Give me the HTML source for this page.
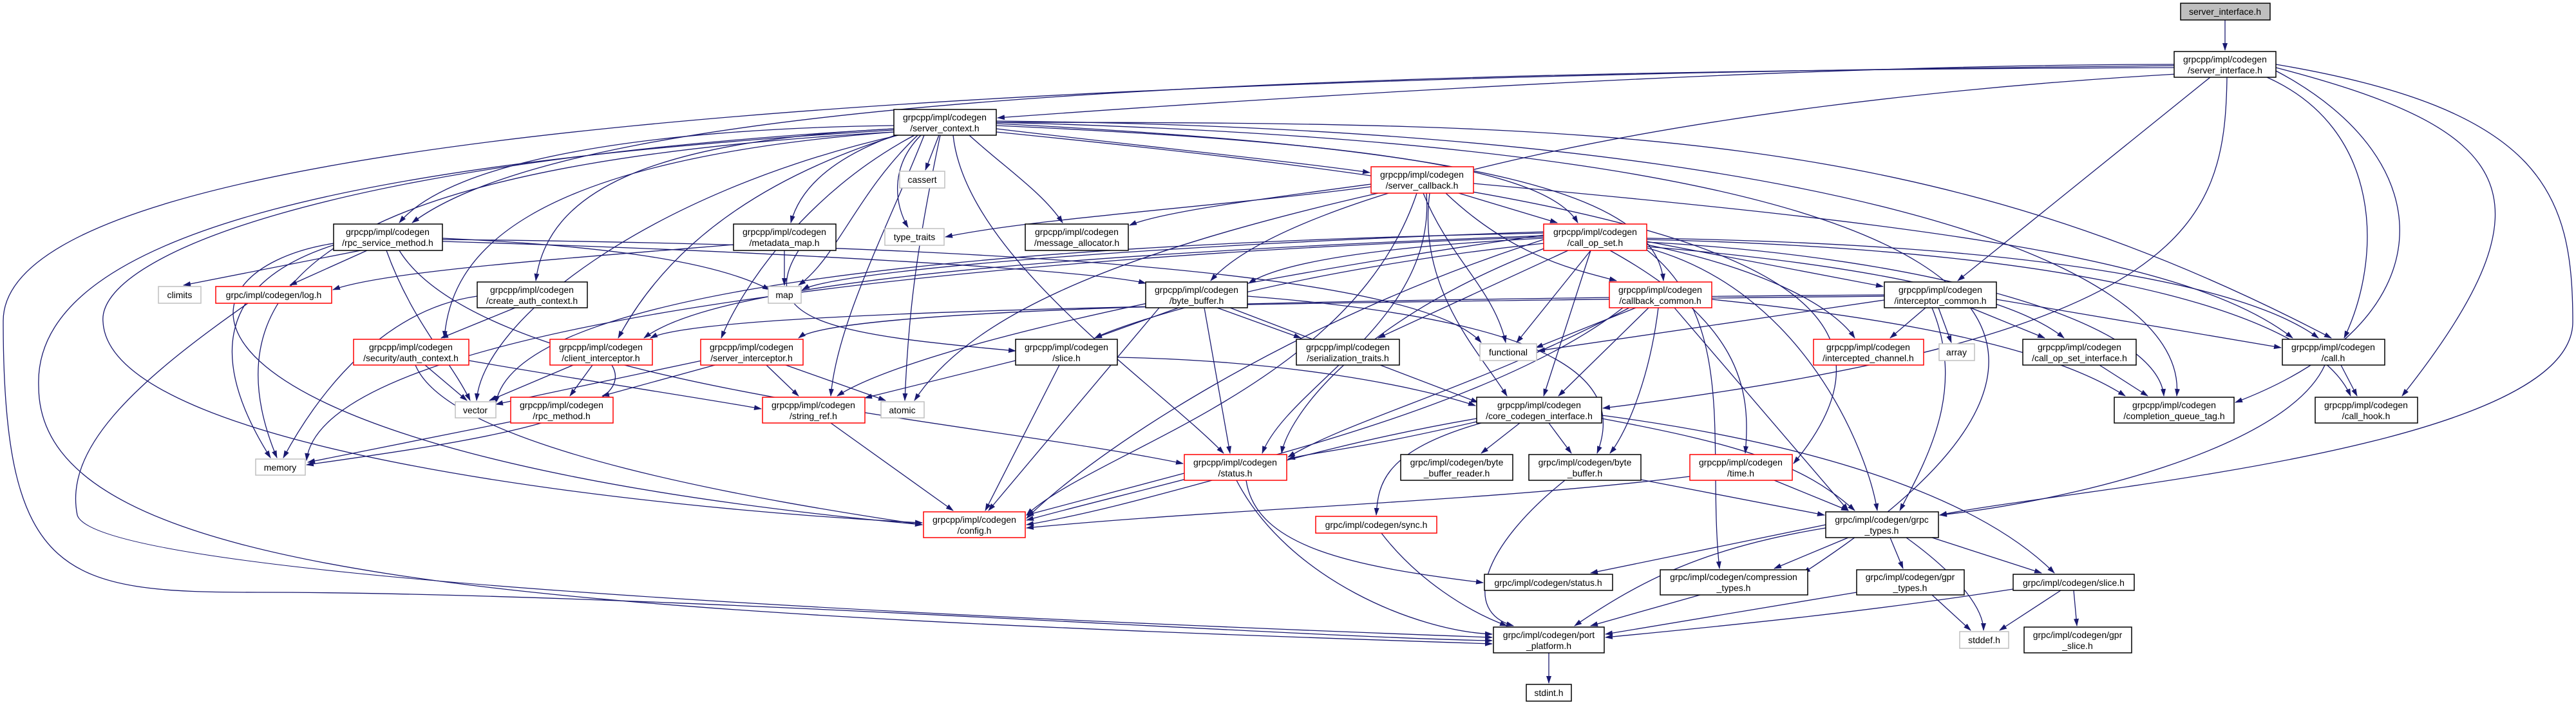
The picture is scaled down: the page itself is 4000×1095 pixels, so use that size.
<!DOCTYPE html>
<html><head><meta charset="utf-8"><style>
html,body{margin:0;padding:0;background:#fff;}
svg{display:block;}
text{font-family:"Liberation Sans",sans-serif;font-size:14px;fill:#000;text-anchor:middle;}
.e{fill:none;stroke:#191970;stroke-width:1.3;}
.b{fill:#fff;stroke:#000;stroke-width:1.5;}
.r{fill:#fff;stroke:#ff0000;stroke-width:1.5;}
.g{fill:#fff;stroke:#bfbfbf;stroke-width:1.5;}
</style></head><body>
<svg width="4000" height="1095" viewBox="0 0 4000 1095" xmlns="http://www.w3.org/2000/svg">
<defs><marker id="a" markerUnits="userSpaceOnUse" markerWidth="12" markerHeight="10" refX="11" refY="4" orient="auto"><path d="M0,0 L12,4 L0,8 z" fill="#191970"/></marker></defs>
<g class="e" marker-end="url(#a)">
<path d="M3455 31 L3455 78"/>
<path d="M3376 100 C2800 100,2000 150,1549 183"/>
<path d="M3376 105 C2000 110,900 150,640 346"/>
<path d="M3380 115 C2600 160,2000 300,1880 436"/>
<path d="M3432 120 L3040 436"/>
<path d="M3458 120 C3455 350,3400 520,2489 634"/>
<path d="M3520 120 C3700 200,3700 400,3640 525"/>
<path d="M3534 110 C3800 250,3800 500,3471 625"/>
<path d="M3534 105 C3900 200,3980 300,3730 615"/>
<path d="M3534 100 C3950 170,3995 300,3995 500 C3995 700,3200 760,3012 800"/>
<path d="M3376 102 C1500 120,0 200,5 500 C5 900,100 920,400 920 C1000 920,2000 990,2317 995"/>
<path d="M1458 210 L1437 264"/>
<path d="M1430 210 C1380 260,1390 320,1410 353"/>
<path d="M1390 210 C1280 250,1240 300,1228 346"/>
<path d="M1505 210 C1560 260,1620 300,1650 346"/>
<path d="M1425 210 C1330 300,1300 400,1240 443"/>
<path d="M1388 195 C1000 200,700 250,620 346"/>
<path d="M1388 200 C1000 220,850 300,832 436"/>
<path d="M1388 205 C800 250,700 400,690 525"/>
<path d="M1420 210 C1250 300,1150 450,1120 525"/>
<path d="M1400 208 C1100 300,1000 450,960 525"/>
<path d="M1435 210 C1380 350,1300 500,1290 615"/>
<path d="M1480 210 C1500 400,1800 600,1900 704"/>
<path d="M1388 200 C500 250,150 400,160 500 C170 700,1000 790,1432 812"/>
<path d="M1547 200 C1800 230,2000 250,2127 268"/>
<path d="M1547 195 C2100 220,2400 260,2450 346"/>
<path d="M1547 192 C2300 230,2570 300,2583 436"/>
<path d="M1547 190 C2500 190,3000 200,3620 525"/>
<path d="M1547 188 C2800 200,3400 400,3380 615"/>
<path d="M1547 205 C2500 300,3050 400,2785 720"/>
<path d="M1388 205 C600 250,300 400,430 711"/>
<path d="M1395 210 C1000 300,750 500,740 622"/>
<path d="M1388 202 C600 250,50 350,60 600 C60 900,800 950,2317 1000"/>
<path d="M1547 190 C3100 230,3400 500,2800 890"/>
<path d="M1460 210 C1420 400,1410 500,1405 622"/>
<path d="M560 389 L285 443"/>
<path d="M570 389 L450 443"/>
<path d="M600 389 C640 500,700 560,730 622"/>
<path d="M520 380 C300 450,350 600,420 711"/>
<path d="M687 370 C900 380,1100 400,1195 450"/>
<path d="M687 375 C1200 390,1700 420,1779 440"/>
<path d="M620 389 C750 600,1500 650,1837 720"/>
<path d="M518 378 C250 420,200 700,1432 815"/>
<path d="M687 372 C1500 380,2200 420,2300 532"/>
<path d="M1218 389 L1218 443"/>
<path d="M1240 389 C1170 500,1300 520,1577 545"/>
<path d="M1139 380 C900 400,600 420,517 450"/>
<path d="M800 478 L685 525"/>
<path d="M741 460 C600 480,500 600,440 711"/>
<path d="M660 567 L725 622"/>
<path d="M728 560 C900 590,1100 620,1182 635"/>
<path d="M645 567 C700 700,1200 780,1432 815"/>
<path d="M890 567 L760 622"/>
<path d="M920 567 L885 615"/>
<path d="M950 567 C1000 650,700 690,476 722"/>
<path d="M1090 560 L770 628"/>
<path d="M1110 567 L935 615"/>
<path d="M1190 567 L1240 615"/>
<path d="M1220 567 L1375 622"/>
<path d="M793 655 L478 718"/>
<path d="M1290 657 L1480 793"/>
<path d="M1577 560 L1343 618"/>
<path d="M1645 567 L1530 793"/>
<path d="M1735 555 C2000 560,2200 600,2291 630"/>
<path d="M1830 478 L1700 525"/>
<path d="M1890 478 L2020 525"/>
<path d="M1870 478 L1910 704"/>
<path d="M1800 478 L1535 793"/>
<path d="M1910 478 L2295 625"/>
<path d="M1937 460 C2450 500,2520 600,2480 704"/>
<path d="M1839 735 L1594 800"/>
<path d="M1935 746 C1950 850,2100 880,2303 905"/>
<path d="M1920 746 C2000 900,2200 980,2317 985"/>
<path d="M2210 300 C2250 400,2320 450,2338 532"/>
<path d="M2129 290 C1900 320,1600 340,1468 368"/>
<path d="M2129 286 C1950 310,1800 330,1754 350"/>
<path d="M2265 300 L2418 346"/>
<path d="M2245 300 C2350 400,2450 420,2510 436"/>
<path d="M2215 300 C2230 500,2000 600,1960 704"/>
<path d="M2200 300 C2100 600,1700 700,1594 800"/>
<path d="M2288 285 C3000 350,3400 400,3560 525"/>
<path d="M2220 300 C2200 450,2300 550,2340 615"/>
<path d="M2140 300 C1700 400,1500 500,1420 622"/>
<path d="M2397 370 C2200 380,2000 400,1939 440"/>
<path d="M2435 389 L2140 525"/>
<path d="M2470 389 L2355 532"/>
<path d="M2470 389 L2397 615"/>
<path d="M2557 375 L2924 445"/>
<path d="M2557 380 C2750 420,2850 480,2880 525"/>
<path d="M2557 383 C3000 420,3150 480,3205 525"/>
<path d="M2557 370 C3200 380,3500 450,3600 525"/>
<path d="M2557 376 C3000 400,3350 500,3360 615"/>
<path d="M2557 372 C3300 390,3600 500,3650 615"/>
<path d="M2557 385 C2800 450,2900 700,2915 793"/>
<path d="M2557 388 C2700 500,2650 700,2670 883"/>
<path d="M2397 372 C2000 500,1700 700,1594 805"/>
<path d="M2400 385 C2100 500,2000 650,1990 704"/>
<path d="M2397 365 C1800 450,1400 550,1300 615"/>
<path d="M2397 378 C2000 420,1750 500,1700 525"/>
<path d="M2397 360 C1800 380,1300 420,1246 450"/>
<path d="M2397 368 C1500 400,500 500,476 715"/>
<path d="M2397 362 C1500 380,800 450,770 626"/>
<path d="M2500 389 C2700 500,2720 600,2710 704"/>
<path d="M2397 366 C1500 400,1100 450,1000 525"/>
<path d="M2540 478 L2385 540"/>
<path d="M2560 478 L2420 615"/>
<path d="M2520 478 C2300 650,1800 750,1594 808"/>
<path d="M2530 478 C2300 600,2100 650,2000 710"/>
<path d="M2600 478 L2870 793"/>
<path d="M2658 465 C3000 500,3200 550,3300 615"/>
<path d="M2575 478 C2560 600,2520 680,2500 704"/>
<path d="M3010 478 L3030 532"/>
<path d="M2926 466 L2388 545"/>
<path d="M3060 478 L3175 525"/>
<path d="M3100 465 L3542 540"/>
<path d="M2990 478 L2935 525"/>
<path d="M2926 460 C2000 470,1100 480,1010 525"/>
<path d="M3000 478 C3050 600,3000 700,2950 793"/>
<path d="M2926 458 C2000 465,1300 480,1240 525"/>
<path d="M3260 567 L3335 615"/>
<path d="M3635 567 L3660 615"/>
<path d="M3610 567 C3550 700,3200 780,3012 800"/>
<path d="M2360 657 L2300 704"/>
<path d="M2405 657 L2440 704"/>
<path d="M2300 657 C2150 700,2140 750,2137 800"/>
<path d="M2487 650 C2700 690,2800 720,2880 793"/>
<path d="M2293 655 C2100 700,2050 700,2000 713"/>
<path d="M2293 650 C2000 700,1800 780,1594 815"/>
<path d="M2487 645 C2900 700,3100 800,3190 890"/>
<path d="M2548 745 L2833 800"/>
<path d="M2430 746 C2300 850,2270 950,2350 972"/>
<path d="M2755 746 L2870 793"/>
<path d="M2624 740 C2300 780,1900 790,1594 820"/>
<path d="M2145 828 C2200 900,2280 950,2340 972"/>
<path d="M2835 815 L2470 890"/>
<path d="M2870 835 L2755 883"/>
<path d="M2935 835 L2955 883"/>
<path d="M2835 820 C2650 850,2550 900,2445 972"/>
<path d="M2960 835 C3050 900,3080 950,3080 979"/>
<path d="M3000 835 L3170 890"/>
<path d="M2640 924 L2470 972"/>
<path d="M2883 920 L2493 985"/>
<path d="M3000 924 L3060 979"/>
<path d="M3126 915 C2900 950,2700 970,2493 990"/>
<path d="M3200 917 L3105 979"/>
<path d="M3220 917 L3225 972"/>
<path d="M2405 1014 L2405 1061"/>
<path d="M385 471 C200 600,100 700,120 800 C150 900,1500 960,2317 990"/>
</g>
<!-- nodes -->
<rect x="3386" y="5" width="139" height="26" fill="#bfbfbf" stroke="#000" stroke-width="1.5"/><text x="3455" y="23">server_interface.h</text>
<rect class="b" x="3376" y="80" width="158" height="40"/><text x="3455" y="97">grpcpp/impl/codegen</text><text x="3455" y="114">/server_interface.h</text>
<rect class="b" x="1388" y="170" width="159" height="40"/><text x="1467" y="187">grpcpp/impl/codegen</text><text x="1467" y="204">/server_context.h</text>
<rect class="b" x="518" y="348" width="169" height="41"/><text x="602" y="365">grpcpp/impl/codegen</text><text x="602" y="382">/rpc_service_method.h</text>
<rect class="b" x="1139" y="348" width="159" height="41"/><text x="1218" y="365">grpcpp/impl/codegen</text><text x="1218" y="382">/metadata_map.h</text>
<rect class="g" x="1374" y="355" width="92" height="26"/><text x="1420" y="373">type_traits</text>
<rect class="b" x="1592" y="348" width="160" height="41"/><text x="1672" y="365">grpcpp/impl/codegen</text><text x="1672" y="382">/message_allocator.h</text>
<rect class="g" x="1397" y="266" width="70" height="26"/><text x="1432" y="284">cassert</text>
<rect class="r" x="2129" y="259" width="159" height="41"/><text x="2208" y="276">grpcpp/impl/codegen</text><text x="2208" y="293">/server_callback.h</text>
<rect class="r" x="2397" y="348" width="160" height="41"/><text x="2477" y="365">grpcpp/impl/codegen</text><text x="2477" y="382">/call_op_set.h</text>
<rect class="g" x="246" y="445" width="66" height="26"/><text x="279" y="463">climits</text>
<rect class="r" x="335" y="445" width="180" height="26"/><text x="425" y="463">grpc/impl/codegen/log.h</text>
<rect class="b" x="741" y="438" width="171" height="40"/><text x="826" y="455">grpcpp/impl/codegen</text><text x="826" y="472">/create_auth_context.h</text>
<rect class="g" x="1193" y="445" width="51" height="26"/><text x="1218" y="463">map</text>
<rect class="b" x="1779" y="438" width="158" height="40"/><text x="1858" y="455">grpcpp/impl/codegen</text><text x="1858" y="472">/byte_buffer.h</text>
<rect class="r" x="2499" y="438" width="159" height="40"/><text x="2578" y="455">grpcpp/impl/codegen</text><text x="2578" y="472">/callback_common.h</text>
<rect class="b" x="2926" y="438" width="174" height="40"/><text x="3013" y="455">grpcpp/impl/codegen</text><text x="3013" y="472">/interceptor_common.h</text>
<rect class="g" x="2298" y="534" width="88" height="26"/><text x="2342" y="552">functional</text>
<rect class="g" x="3011" y="534" width="55" height="26"/><text x="3038" y="552">array</text>
<rect class="r" x="549" y="527" width="179" height="40"/><text x="638" y="544">grpcpp/impl/codegen</text><text x="638" y="561">/security/auth_context.h</text>
<rect class="r" x="854" y="527" width="159" height="40"/><text x="933" y="544">grpcpp/impl/codegen</text><text x="933" y="561">/client_interceptor.h</text>
<rect class="r" x="1088" y="527" width="159" height="40"/><text x="1167" y="544">grpcpp/impl/codegen</text><text x="1167" y="561">/server_interceptor.h</text>
<rect class="b" x="1577" y="527" width="158" height="40"/><text x="1656" y="544">grpcpp/impl/codegen</text><text x="1656" y="561">/slice.h</text>
<rect class="b" x="2013" y="527" width="160" height="40"/><text x="2093" y="544">grpcpp/impl/codegen</text><text x="2093" y="561">/serialization_traits.h</text>
<rect class="r" x="2816" y="527" width="171" height="40"/><text x="2901" y="544">grpcpp/impl/codegen</text><text x="2901" y="561">/intercepted_channel.h</text>
<rect class="b" x="3141" y="527" width="176" height="40"/><text x="3229" y="544">grpcpp/impl/codegen</text><text x="3229" y="561">/call_op_set_interface.h</text>
<rect class="b" x="3544" y="527" width="159" height="40"/><text x="3623" y="544">grpcpp/impl/codegen</text><text x="3623" y="561">/call.h</text>
<rect class="g" x="707" y="624" width="63" height="25"/><text x="738" y="642">vector</text>
<rect class="r" x="793" y="617" width="159" height="40"/><text x="872" y="634">grpcpp/impl/codegen</text><text x="872" y="651">/rpc_method.h</text>
<rect class="r" x="1184" y="617" width="159" height="40"/><text x="1263" y="634">grpcpp/impl/codegen</text><text x="1263" y="651">/string_ref.h</text>
<rect class="g" x="1368" y="624" width="67" height="25"/><text x="1401" y="642">atomic</text>
<rect class="b" x="2293" y="617" width="194" height="40"/><text x="2390" y="634">grpcpp/impl/codegen</text><text x="2390" y="651">/core_codegen_interface.h</text>
<rect class="b" x="3283" y="617" width="186" height="40"/><text x="3376" y="634">grpcpp/impl/codegen</text><text x="3376" y="651">/completion_queue_tag.h</text>
<rect class="b" x="3595" y="617" width="159" height="40"/><text x="3674" y="634">grpcpp/impl/codegen</text><text x="3674" y="651">/call_hook.h</text>
<rect class="g" x="397" y="713" width="77" height="25"/><text x="435" y="731">memory</text>
<rect class="r" x="1839" y="706" width="159" height="40"/><text x="1918" y="723">grpcpp/impl/codegen</text><text x="1918" y="740">/status.h</text>
<rect class="b" x="2175" y="706" width="174" height="40"/><text x="2262" y="723">grpc/impl/codegen/byte</text><text x="2262" y="740">_buffer_reader.h</text>
<rect class="b" x="2374" y="706" width="174" height="40"/><text x="2461" y="723">grpc/impl/codegen/byte</text><text x="2461" y="740">_buffer.h</text>
<rect class="r" x="2624" y="706" width="159" height="40"/><text x="2703" y="723">grpcpp/impl/codegen</text><text x="2703" y="740">/time.h</text>
<rect class="r" x="1434" y="795" width="158" height="40"/><text x="1513" y="812">grpcpp/impl/codegen</text><text x="1513" y="829">/config.h</text>
<rect class="r" x="2043" y="802" width="188" height="26"/><text x="2137" y="820">grpc/impl/codegen/sync.h</text>
<rect class="b" x="2835" y="795" width="175" height="40"/><text x="2922" y="812">grpc/impl/codegen/grpc</text><text x="2922" y="829">_types.h</text>
<rect class="b" x="2305" y="892" width="199" height="25"/><text x="2404" y="910">grpc/impl/codegen/status.h</text>
<rect class="b" x="2578" y="885" width="229" height="39"/><text x="2692" y="901">grpc/impl/codegen/compression</text><text x="2692" y="918">_types.h</text>
<rect class="b" x="2883" y="885" width="167" height="39"/><text x="2966" y="901">grpc/impl/codegen/gpr</text><text x="2966" y="918">_types.h</text>
<rect class="b" x="3126" y="892" width="188" height="25"/><text x="3220" y="910">grpc/impl/codegen/slice.h</text>
<rect class="b" x="2319" y="974" width="172" height="40"/><text x="2405" y="991">grpc/impl/codegen/port</text><text x="2405" y="1008">_platform.h</text>
<rect class="g" x="3043" y="981" width="76" height="26"/><text x="3081" y="999">stddef.h</text>
<rect class="b" x="3143" y="974" width="167" height="40"/><text x="3226" y="991">grpc/impl/codegen/gpr</text><text x="3226" y="1008">_slice.h</text>
<rect class="b" x="2370" y="1063" width="70" height="26"/><text x="2405" y="1081">stdint.h</text>
</svg>
</body></html>
